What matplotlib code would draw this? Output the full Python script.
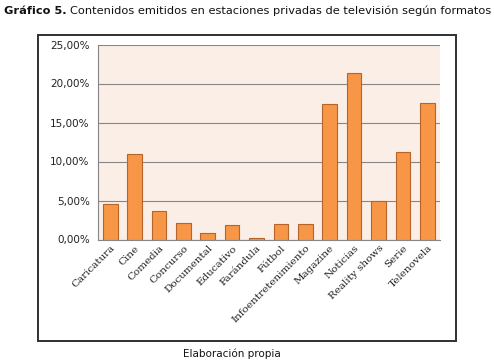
import matplotlib
matplotlib.use("Agg")
import matplotlib.pyplot as plt
from matplotlib.patches import Rectangle
from matplotlib.ticker import FuncFormatter

categorias = ["Caricatura", "Cine", "Comedia", "Concurso", "Documental", "Educativo",
              "Farándula", "Fútbol", "Infoentretenimiento", "Magazine", "Noticias",
              "Reality shows", "Serie", "Telenovela"]
porcentajes = [4.6, 11.0, 3.7, 2.1, 0.85, 1.9, 0.25, 2.05, 1.95, 17.35, 21.3, 5.0, 11.2, 17.5]
y_ticks = [0, 5, 10, 15, 20, 25]

fig = plt.figure(figsize=(4.94, 3.64), dpi=100)
W, H = 494, 364

# outer frame
fig.patches.append(Rectangle((38 / W, 1 - 341 / H), (456 - 38) / W, (341 - 34.5) / H,
                             transform=fig.transFigure, fill=False, edgecolor="#303030",
                             linewidth=1.4))

ax = fig.add_axes([98 / W, 1 - 239.5 / H, (439.5 - 98) / W, (239.5 - 44.5) / H])
ax.set_facecolor("#FBEEE6")
x = range(len(categorias))
ax.bar(x, porcentajes, width=0.6, color="#F79646", edgecolor="#B5642A", linewidth=0.8, zorder=3)
ax.set_xlim(-0.5, len(categorias) - 0.5)
ax.set_ylim(0, 25)
ax.set_yticks(y_ticks)
ax.yaxis.set_major_formatter(FuncFormatter(lambda v, p: "{:.2f}%".format(v).replace(".", ",")))
ax.grid(axis="y", color="#868686", linewidth=0.8, zorder=1)
for s in ["top", "right"]:
    ax.spines[s].set_visible(False)
ax.spines["left"].set_color("#868686")
ax.spines["bottom"].set_color("#868686")
ax.tick_params(axis="y", length=0, pad=6, labelsize=7.5, labelcolor="#222222")
ax.tick_params(axis="x", length=0, pad=3)
ax.set_xticks(list(x))
ax.set_xticklabels(categorias, rotation=45, ha="right", rotation_mode="anchor",
                   fontsize=7.5, family="DejaVu Serif", color="#222222")

# title: bold prefix + regular text
fig.canvas.draw()
r = fig.canvas.get_renderer()
t1 = fig.text(4 / W, 1 - 11 / H, "Gráfico 5.", fontsize=8.2, fontweight="bold",
              va="center", ha="left", color="#111111")
bb = t1.get_window_extent(renderer=r)
fig.text(bb.x1 / W + 3 / W, 1 - 11 / H,
         "Contenidos emitidos en estaciones privadas de televisión según formatos",
         fontsize=8.2, va="center", ha="left", color="#111111")

fig.text(232 / W, 1 - 354 / H, "Elaboración propia", fontsize=7.5, ha="center",
         va="center", color="#111111")

fig.savefig("out.png", dpi=100)
